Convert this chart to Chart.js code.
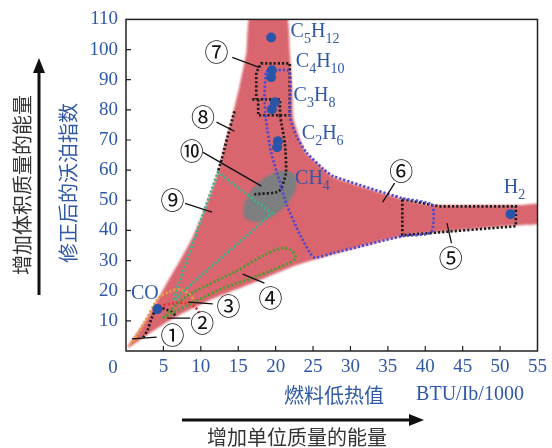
<!DOCTYPE html>
<html><head><meta charset="utf-8">
<script src="https://cdn.jsdelivr.net/npm/chart.js@4"></script>
<style>html,body{margin:0;padding:0;background:#fff}canvas{display:block}</style>
</head><body>
<canvas id="c" width="552" height="448"></canvas>
<script>
// Lower heating value (BTU/lb/1000) on x, modified Wobbe index on y.
const xTickValues = [0, 5, 10, 15, 20, 25, 30, 35, 40, 45, 50, 55];
const yTickValues = [0, 10, 20, 30, 40, 50, 60, 70, 80, 90, 100, 110];

// Pure fuels
const fuelNames     = ['C5H12', 'C4H10', 'C4H10', 'C3H8', 'C3H8', 'C2H6', 'C2H6', 'H2', 'CO'];
const heatingValue  = [19.4, 19.5, 19.4, 19.9, 19.5, 20.3, 20.2, 51.4, 4.2];
const wobbeIndex    = [104.0, 93.1, 90.8, 82.5, 80.2, 69.6, 67.6, 45.4, 13.9];

// Formula labels: text, heating value, Wobbe index at label start
const formulaText = ['C5H12', 'C4H10', 'C3H8', 'C2H6', 'CH4', 'H2', 'CO'];
const formulaX    = [22.0, 22.7, 22.4, 23.5, 22.6, 50.5, 0.66];
const formulaY    = [104.0, 94.1, 82.8, 70.2, 55.3, 52.4, 17.2];

// Envelope of all fuel mixtures
const envelope = [
  [0.26, 1.7], [2.64, 10.3], [3.96, 15.9], [5.67, 23.5], [7.25, 30.2], [8.84, 37.4],
  [10.29, 45.7], [11.61, 54.3], [12.53, 61.0], [12.93, 65.9], [14.11, 76.9],
  [15.17, 87.8], [16.09, 99.1], [16.62, 112], [21.4, 112], [21.9, 99.1], [22.2, 87.8],
  [22.4, 76.9], [24.0, 65.9], [26.0, 61.3], [27.7, 57.7], [36.5, 50.7], [40.9, 48.4],
  [52.4, 48.4], [56, 48.8], [56, 42.6], [52.1, 41.7], [36.9, 38.1], [27.7, 32.1],
  [22.82, 28.5], [18.86, 24.5], [14.51, 20.2], [10.95, 16.6], [7.91, 12.9], [5.28, 9.3],
  [2.64, 5.0], [0.26, 1.0], [0.26, 1.7]
];

// Zone 10: pipeline natural gas
const zone10 = [
  [22.5, 58.7], [22.8, 55.5], [22.2, 51.2], [20.8, 46.9], [19.0, 43.9], [17.3, 42.8],
  [16.0, 44.0], [15.7, 47.2], [16.3, 51.6], [17.7, 55.8], [19.5, 58.8], [21.3, 59.9], [22.5, 58.7]
];

// Zone outlines
const zone6 = [
  [18.7, 92.8], [21.8, 92.8], [21.9, 77.9], [22.8, 71.2], [24.1, 65.9], [26.4, 60.3],
  [27.7, 58.0], [36.9, 50.7], [40.9, 48.4], [40.8, 39.4], [36.9, 38.1], [27.7, 32.5],
  [25.1, 31.1], [23.3, 38.4], [21.5, 48.4], [20.8, 54.0], [19.4, 65.9], [18.7, 76.9],
  [18.5, 84.5], [18.7, 92.8]
];
const zone7 = [
  [17.67, 83.5], [17.67, 78.2], [21.89, 78.2], [21.89, 95.4], [18.07, 95.4],
  [17.41, 92.4], [17.41, 83.5]
];
const zone7Split = [[16.88, 83.5], [20.57, 83.5], [20.57, 78.2]];
const zone8Right = [[20.57, 78.2], [21.23, 68.9], [21.37, 59.0], [20.44, 53.0], [17.15, 52.0]];
const zone8Left  = [[14.51, 79.5], [13.58, 71.2], [12.79, 63.6], [12.27, 59.3]];
const zone5 = [[36.93, 50.4], [41.81, 48.0], [52.1, 48.0], [52.1, 41.4], [36.93, 38.4], [36.93, 50.4]];
const zone9 = [
  [6.6, 16.9], [6.6, 19.2], [12.27, 59.3], [19.52, 45.7], [7.52, 19.5], [6.6, 16.9]
];
const zone4 = [
  [4.88, 10.9], [7.78, 17.6], [10.95, 21.9], [14.51, 26.2], [18.46, 31.8], [20.71, 34.1],
  [22.03, 33.5], [22.69, 31.1], [22.03, 29.5], [17.28, 24.6], [12.79, 20.6], [9.36, 16.6],
  [6.2, 12.6], [4.88, 10.9]
];
const zone3 = [[0.66, 2.0], [2.5, 9.6], [4.35, 17.6], [5.67, 19.5], [6.99, 20.5], [8.31, 19.2], [9.1, 16.9]];
const zone2 = [[4.48, 14.9], [6.46, 15.9], [8.05, 15.9], [9.23, 14.6], [9.76, 12.6]];
const zone1 = [[6.6, 11.9], [5.54, 13.6], [4.22, 14.2], [3.43, 10.9], [2.9, 7.0], [2.24, 4.3]];

// Zone callouts: marker, marker centre, leader start, leader end
const zoneMarks  = ['①', '②', '③', '④', '⑤', '⑥', '⑦', '⑧', '⑨', '⑩'];
const zoneMarkAt = [[6.2, 5.3], [10.2, 9.3], [13.7, 14.9], [19.3, 17.6], [43.4, 30.8],
                    [36.8, 59.6], [12.1, 99.1], [10.3, 77.5], [6.2, 50.0], [8.8, 66.3]];
const leaderFrom = [[4.1, 4.6], [8.6, 10.9], [11.6, 15.6], [18.5, 22.5], [43.5, 35.8],
                    [35.9, 55.7], [14.2, 97.4], [12.1, 75.9], [7.9, 49.0], [10.3, 65.9]];
const leaderTo   = [[0.8, 4.0], [5.5, 10.9], [8.3, 16.2], [15.6, 25.5], [42.9, 42.4],
                    [34.3, 49.4], [17.8, 94.1], [14.5, 72.9], [11.5, 46.1], [18.1, 54.7]];

const BLUE = '#2f58a6';
const SERIF = '"Liberation Serif", "DejaVu Serif", serif';
const CJK = '"Noto Sans CJK SC", sans-serif';

const toXY = pts => pts.map(([x, y]) => ({ x, y }));

function dotted(pts, color, tension) {
  return {
    data: toXY(pts), borderColor: color, borderWidth: 2.7, borderDash: [2.2, 2.0],
    pointRadius: 0, fill: false, tension: tension, order: 2
  };
}

const datasets = [
  {
    data: heatingValue.map((x, i) => ({ x, y: wobbeIndex[i] })),
    showLine: false, pointRadius: 5, pointBackgroundColor: '#2a54a8',
    pointBorderWidth: 0, order: 0
  },
  dotted(zone6, '#5248cc', 0.2),
  dotted(zone7, '#1c1c1c', 0),
  dotted(zone7Split, '#1c1c1c', 0),
  dotted(zone8Right, '#1c1c1c', 0.2),
  dotted(zone8Left, '#1c1c1c', 0.2),
  dotted(zone5, '#1c1c1c', 0),
  dotted(zone9, '#3cb48c', 0),
  dotted(zone4, '#4b9c33', 0.3),
  dotted(zone3, '#e8a040', 0.3),
  dotted(zone2, '#e03535', 0.3),
  dotted(zone1, '#1c1c1c', 0.3),
  {
    data: toXY(zone10), borderWidth: 0, backgroundColor: '#7c7e80',
    fill: 'shape', tension: 0.4, pointRadius: 0, order: 3, soft: true
  },
  {
    data: toXY(envelope), borderWidth: 0, backgroundColor: '#d9666f',
    fill: 'shape', tension: 0.15, pointRadius: 0, order: 4, soft: true
  }
];

// Filled areas get slightly softened edges
const softEdges = {
  id: 'softEdges',
  beforeDatasetsDraw(chart) { chart.ctx.filter = 'blur(0.8px)'; },
  afterDatasetDraw(chart, args) {
    if (args.meta.order === 3) chart.ctx.filter = 'none';
  }
};

function drawFormula(ctx, str, px, py) {
  let cx = px;
  for (const ch of str) {
    const sub = /\d/.test(ch);
    ctx.font = (sub ? '14px ' : '20px ') + SERIF;
    ctx.fillText(ch, cx, sub ? py + 6 : py);
    cx += ctx.measureText(ch).width;
  }
}

const decorations = {
  id: 'decorations',
  afterDatasetsDraw(chart) {
    const { ctx, chartArea: a, scales: { x, y } } = chart;
    const px = v => x.getPixelForValue(v), py = v => y.getPixelForValue(v);
    ctx.save();
    ctx.filter = 'none';

    // frame
    ctx.strokeStyle = '#222';
    ctx.lineWidth = 1.5;
    ctx.strokeRect(a.left, a.top, a.right - a.left, a.bottom - a.top);

    // inward tick marks
    ctx.lineWidth = 1.2;
    ctx.beginPath();
    xTickValues.slice(1, -1).forEach(v => { ctx.moveTo(px(v), a.bottom); ctx.lineTo(px(v), a.bottom - 5); });
    yTickValues.slice(1, -1).forEach(v => { ctx.moveTo(a.left, py(v)); ctx.lineTo(a.left + 5, py(v)); });
    ctx.stroke();

    // shared origin label
    ctx.fillStyle = BLUE;
    ctx.font = '19px ' + SERIF;
    ctx.textAlign = 'center';
    ctx.textBaseline = 'middle';
    ctx.fillText('0', a.left - 13, a.bottom + 17);

    // leader lines and zone markers
    ctx.strokeStyle = '#111';
    ctx.lineWidth = 1.3;
    ctx.beginPath();
    leaderFrom.forEach((f, i) => {
      ctx.moveTo(px(f[0]), py(f[1]));
      ctx.lineTo(px(leaderTo[i][0]), py(leaderTo[i][1]));
    });
    ctx.stroke();
    ctx.fillStyle = '#111';
    ctx.font = '24px ' + CJK;
    zoneMarks.forEach((m, i) => ctx.fillText(m, px(zoneMarkAt[i][0]), py(zoneMarkAt[i][1])));

    // formula labels
    ctx.fillStyle = BLUE;
    ctx.textAlign = 'left';
    ctx.textBaseline = 'alphabetic';
    formulaText.forEach((t, i) => drawFormula(ctx, t, px(formulaX[i]), py(formulaY[i])));

    // axis titles
    ctx.textAlign = 'center';
    ctx.textBaseline = 'middle';
    ctx.font = '20px ' + CJK;
    ctx.fillStyle = BLUE;
    ctx.fillText('燃料低热值', 334, 395);
    ctx.font = '20px ' + SERIF;
    ctx.fillText('BTU/Ib/1000', 470, 395);
    ctx.font = '20px ' + CJK;
    ctx.fillStyle = '#333';
    ctx.fillText('增加单位质量的能量', 297, 437);

    ctx.save();
    ctx.translate(68, 183);
    ctx.rotate(-Math.PI / 2);
    ctx.fillStyle = BLUE;
    ctx.fillText('修正后的沃泊指数', 0, 0);
    ctx.restore();
    ctx.save();
    ctx.translate(22, 185);
    ctx.rotate(-Math.PI / 2);
    ctx.fillStyle = '#333';
    ctx.fillText('增加体积质量的能量', 0, 0);
    ctx.restore();

    // direction arrows
    ctx.fillStyle = '#111';
    ctx.strokeStyle = '#111';
    ctx.lineWidth = 3;
    ctx.beginPath();
    ctx.moveTo(39, 295); ctx.lineTo(39, 70);
    ctx.moveTo(182, 420); ctx.lineTo(412, 420);
    ctx.stroke();
    ctx.beginPath();
    ctx.moveTo(39, 58); ctx.lineTo(33, 73); ctx.lineTo(45, 73); ctx.closePath();
    ctx.moveTo(424, 420); ctx.lineTo(409, 414); ctx.lineTo(409, 426); ctx.closePath();
    ctx.fill();

    ctx.restore();
  }
};

const tickFont = { family: 'Liberation Serif', size: 19 };

new Chart(document.getElementById('c'), {
  type: 'line',
  data: { datasets },
  options: {
    responsive: false,
    animation: false,
    events: [],
    layout: { padding: { top: 19, right: 9, left: 0, bottom: 0 } },
    plugins: { legend: { display: false }, tooltip: { enabled: false } },
    scales: {
      x: {
        type: 'linear', min: 0, max: 55,
        afterFit: s => { s.height = 97; },
        afterBuildTicks: s => { s.ticks = xTickValues.map(v => ({ value: v })); },
        grid: { display: false, drawTicks: false },
        border: { display: false },
        ticks: { padding: 5, color: BLUE, font: tickFont, maxRotation: 0, autoSkip: false,
                 callback: v => (v === 0 ? '' : v) }
      },
      y: {
        type: 'linear', min: 0, max: 110,
        afterFit: s => { s.width = 126; },
        afterBuildTicks: s => { s.ticks = yTickValues.map(v => ({ value: v })); },
        grid: { display: false, drawTicks: false },
        border: { display: false },
        ticks: { padding: 8, color: BLUE, font: tickFont, autoSkip: false,
                 callback: v => (v === 0 ? '' : v) }
      }
    }
  },
  plugins: [softEdges, decorations]
});
</script>
</body></html>
